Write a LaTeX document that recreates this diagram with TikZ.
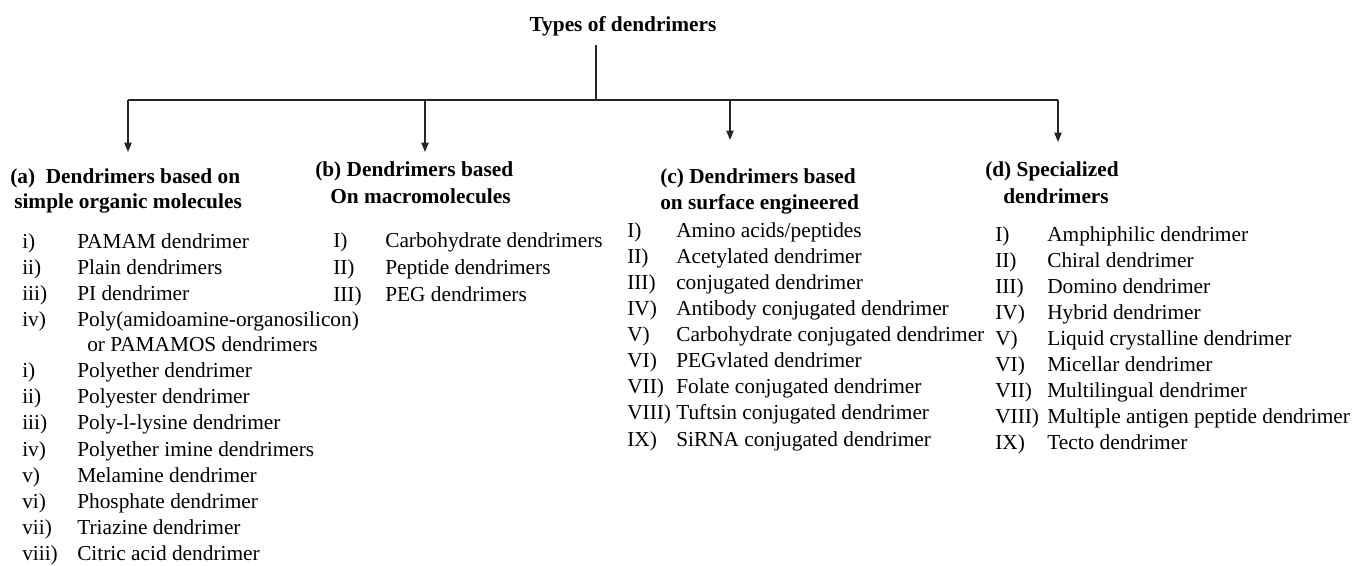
\documentclass[tikz,border=0pt]{standalone}
\usepackage{fontspec}
\setmainfont{Liberation Serif}
\usetikzlibrary{arrows.meta}
\tikzset{
  txt/.style={anchor=base west, inner sep=0pt, font=\fontsize{16}{19}\selectfont},
  hd/.style={txt, font=\fontsize{16}{19}\selectfont\bfseries},
  conn/.style={line width=0.8pt, draw=black!85},
  arr/.style={conn, -{Triangle[length=7pt,width=5.5pt]}}
}
\begin{document}
\begin{tikzpicture}[x=0.75pt,y=-0.75pt]
\useasboundingbox (0,0) rectangle (1360,566);
% title
\node[hd, anchor=base] (t) at (623,32) {Types of dendrimers};
\coordinate (j) at (596,100);
\coordinate (ja) at (128,100);
\coordinate (jb) at (425,100);
\coordinate (jc) at (730,100);
\coordinate (jd) at (1058,100);
\coordinate (ea) at (128,152);
\coordinate (eb) at (425,152);
\coordinate (ec) at (730,140);
\coordinate (ed) at (1058,142);
\draw[conn] (t.south -| j) ++(0,8) -- (j);
\draw[conn] (ja) -- (jd);
\draw[arr] (ja) -- (ea);
\draw[arr] (jb) -- (eb);
\draw[arr] (jc) -- (ec);
\draw[arr] (jd) -- (ed);
% headings
\node[hd] (ha1) at (10,184) {(a)\ \ Dendrimers based on};
\node[hd] (ha2) at (14,209) {simple organic molecules};
\node[hd] (hb1) at (315,177) {(b) Dendrimers based};
\node[hd] (hb2) at (330,204) {On macromolecules};
\node[hd] (hc1) at (660,184) {(c) Dendrimers based};
\node[hd] (hc2) at (660,210) {on surface engineered};
\node[hd] (hd1) at (985,177) {(d) Specialized};
\node[hd] (hd2) at (1003,204) {dendrimers};
% (a) items
\foreach \lab/\t/\y [count=\k] in {
  i)/PAMAM dendrimer/249,
  ii)/Plain dendrimers/275,
  iii)/PI dendrimer/301,
  iv)/Poly(amidoamine-organosilicon)/327,
  i)/Polyether dendrimer/378,
  ii)/Polyester dendrimer/404,
  iii)/Poly-l-lysine dendrimer/430,
  iv)/Polyether imine dendrimers/456,
  v)/Melamine dendrimer/482,
  vi)/Phosphate dendrimer/508,
  vii)/Triazine dendrimer/534,
  viii)/Citric acid dendrimer/560}{
  \node[txt] (al\k) at (22,\y) {\lab};
  \node[txt] (at\k) at (77,\y) {\t};
}
\node[txt] (atx) at (87,352) {or PAMAMOS dendrimers};
% (b) items
\foreach \lab/\t/\y [count=\k] in {
  I)/Carbohydrate dendrimers/248,
  II)/Peptide dendrimers/275,
  III)/PEG dendrimers/302}{
  \node[txt] (bl\k) at (333,\y) {\lab};
  \node[txt] (bt\k) at (385,\y) {\t};
}
% (c) items
\foreach \lab/\t [count=\k] in {
  I)/Amino acids\slash peptides,
  II)/Acetylated dendrimer,
  III)/conjugated dendrimer,
  IV)/Antibody conjugated dendrimer,
  V)/Carbohydrate conjugated dendrimer,
  VI)/PEGvlated dendrimer,
  VII)/Folate conjugated dendrimer,
  VIII)/Tuftsin conjugated dendrimer,
  IX)/SiRNA conjugated dendrimer}{
  \node[txt] (cl\k) at (627,{238+26*(\k-1)}) {\lab};
  \node[txt] (ct\k) at (676,{238+26*(\k-1)}) {\t};
}
% (d) items
\foreach \lab/\t [count=\k] in {
  I)/Amphiphilic dendrimer,
  II)/Chiral dendrimer,
  III)/Domino dendrimer,
  IV)/Hybrid dendrimer,
  V)/Liquid crystalline dendrimer,
  VI)/Micellar dendrimer,
  VII)/Multilingual dendrimer,
  VIII)/Multiple antigen peptide dendrimer,
  IX)/Tecto dendrimer}{
  \node[txt] (dl\k) at (995,{242+26*(\k-1)}) {\lab};
  \node[txt] (dt\k) at (1047,{242+26*(\k-1)}) {\t};
}
\end{tikzpicture}
\end{document}
